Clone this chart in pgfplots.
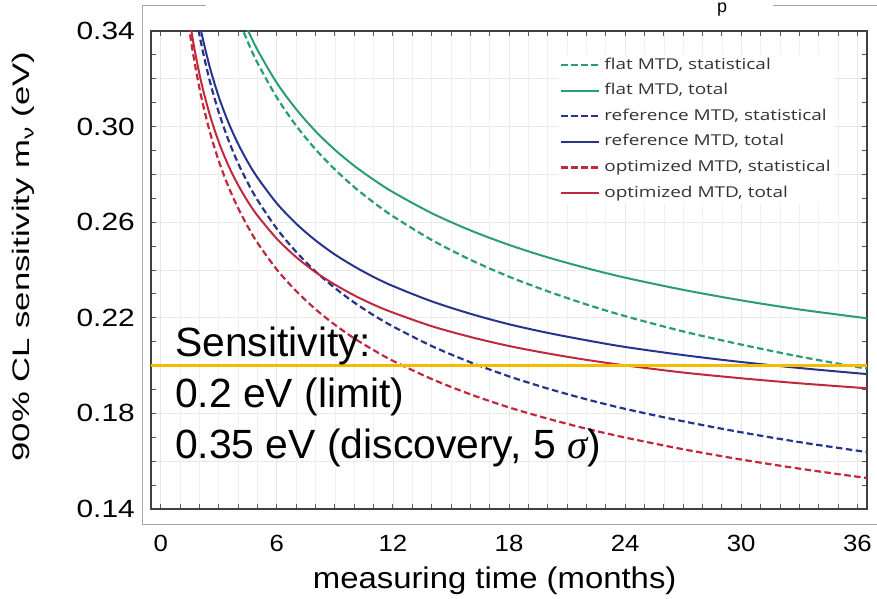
\documentclass[border=0pt]{standalone}
\usepackage{fontspec}
\setmainfont{Liberation Sans}
\newfontfamily\xtickfont[FakeStretch=1.1]{Liberation Sans}
\newfontfamily\ytickfont[FakeStretch=1.2]{Liberation Sans}
\newfontfamily\xlabfont[FakeStretch=1.1]{Liberation Sans}
\newfontfamily\ylabfont[FakeStretch=1.45]{Liberation Sans}
\newfontfamily\legfont[FakeStretch=1.27]{Open Sans}
\newfontfamily\sigfont{Liberation Serif}
\usepackage{pgfplots}
\pgfplotsset{compat=1.18}
\definecolor{cgreen}{RGB}{42,157,115}
\definecolor{cblue}{RGB}{40,52,140}
\definecolor{cred}{RGB}{192,40,62}
\definecolor{cyel}{RGB}{245,187,0}
\begin{document}
\begin{tikzpicture}
\path[use as bounding box] (0,0) rectangle (877bp,599bp);
% outer frame of the pasted figure (decoration)
\draw[black!35, line width=1bp] (142bp,593bp) -- (142bp,74bp) -- (877bp,74bp);
\draw[black!35, line width=1bp] (142bp,593bp) -- (206bp,593bp);
\draw[black!35, line width=1bp] (773bp,593bp) -- (877bp,593bp);
\node[anchor=base, inner sep=0pt, font=\fontsize{18}{18}\selectfont] at (722bp,586bp) {p};
\begin{axis}[
  at={(151bp,90bp)}, anchor=south west, scale only axis,
  width=716bp, height=478bp,
  xmin=-0.5, xmax=36.5, ymin=0.14, ymax=0.34,
  xtick={0,6,12,18,24,30,36}, minor x tick num=5,
  ytick={0.14,0.16,0.18,0.20,0.22,0.24,0.26,0.28,0.30,0.32,0.34},
  yticklabels={0.14,,0.18,,0.22,,0.26,,0.30,,0.34},
  minor y tick num=1,
  xmajorgrids, xminorgrids, ymajorgrids,
  major grid style={black!9, line width=0.6bp},
  minor grid style={black!6, line width=0.6bp},
  tick align=inside, major tick length=5bp, minor tick length=5bp,
  tick style={black!65, line width=0.8bp},
  axis line style={black!75, line width=1.3bp},
  /pgf/number format/assume math mode=true,
  xticklabel style={font=\xtickfont\fontsize{23.5}{24}\selectfont, anchor=north, inner sep=0pt, yshift=-26bp},
  yticklabel style={font=\ytickfont\fontsize{25}{25}\selectfont, anchor=east, inner sep=0pt, xshift=-16bp},
  xlabel={measuring time (months)},
  xlabel style={font=\xlabfont\fontsize{30}{30}\selectfont, at={(axis description cs:0.480,0)}, anchor=base, yshift=-79bp, inner sep=0pt},
  ylabel={90\% CL sensitivity m\textsubscript{ν} (eV)},
  ylabel style={font=\ylabfont\fontsize{24}{24}\selectfont, at={(axis description cs:-0.169,0.528)}, anchor=base, inner sep=0pt},
  legend cell align=left,
  legend image code/.code={\draw[#1] (0bp,0bp) -- (38bp,0bp);},
  legend style={at={(rel axis cs:0.5684,0.9498)}, anchor=north west, draw=none, fill=white,
    inner sep=2bp, row sep=9.6bp, column sep=3bp,
    font=\legfont\fontsize{15}{18}\selectfont, text=black!80,
    nodes={text height=11bp, text depth=3bp, inner sep=1bp}},
]
\addplot[cgreen, line width=2.2bp, dash pattern=on 6.5bp off 3.5bp, smooth] coordinates {
(3,0.3712)(3.5,0.3572)(4,0.3455)(4.5,0.3355)(5,0.3267)(6,0.3122)(7,0.3004)(8,0.2905)(9,0.2821)(10,0.2747)(11,0.2683)(12,0.2625)(14,0.2526)(16,0.2443)(18,0.2372)(20,0.2311)(22,0.2256)(24,0.2207)(27,0.2143)(30,0.2088)(33,0.2038)(36,0.1994)(36.5,0.1988)};
\addlegendentry{flat MTD, statistical}
\addplot[cgreen, line width=2bp, smooth] coordinates {
(3,0.3750)(3.5,0.3614)(4,0.3501)(4.5,0.3405)(5,0.3321)(6,0.3183)(7,0.3073)(8,0.2981)(9,0.2903)(10,0.2836)(11,0.2778)(12,0.2726)(14,0.2638)(16,0.2566)(18,0.2505)(20,0.2453)(22,0.2408)(24,0.2368)(27,0.2317)(30,0.2273)(33,0.2235)(36,0.2203)(36.5,0.2197)};
\addlegendentry{flat MTD, total}
\addplot[cblue, line width=2.2bp, dash pattern=on 6.5bp off 3.5bp, smooth] coordinates {
(1,0.4027)(1.5,0.3639)(2,0.3386)(2.5,0.3203)(3,0.3060)(3.5,0.2944)(4,0.2847)(4.5,0.2765)(5,0.2693)(6,0.2573)(7,0.2476)(8,0.2394)(9,0.2325)(10,0.2264)(11,0.2211)(12,0.2164)(14,0.2082)(16,0.2014)(18,0.1955)(20,0.1904)(22,0.1859)(24,0.1819)(27,0.1767)(30,0.1721)(33,0.1680)(36,0.1644)(36.5,0.1638)};
\addlegendentry{reference MTD, statistical}
\addplot[cblue, line width=2bp, smooth] coordinates {
(1,0.4056)(1.5,0.3678)(2,0.3435)(2.5,0.3260)(3,0.3125)(3.5,0.3017)(4,0.2928)(4.5,0.2852)(5,0.2787)(6,0.2679)(7,0.2594)(8,0.2524)(9,0.2465)(10,0.2415)(11,0.2371)(12,0.2333)(14,0.2269)(16,0.2217)(18,0.2173)(20,0.2137)(22,0.2106)(24,0.2078)(27,0.2044)(30,0.2015)(33,0.1990)(36,0.1968)(36.5,0.1965)};
\addlegendentry{reference MTD, total}
\addplot[cred, line width=2.2bp, dash pattern=on 6.5bp off 3.5bp, smooth] coordinates {
(1,0.3760)(1.5,0.3398)(2,0.3162)(2.5,0.2990)(3,0.2857)(3.5,0.2749)(4,0.2659)(4.5,0.2582)(5,0.2514)(6,0.2402)(7,0.2312)(8,0.2236)(9,0.2171)(10,0.2114)(11,0.2065)(12,0.2020)(14,0.1944)(16,0.1880)(18,0.1825)(20,0.1778)(22,0.1736)(24,0.1699)(27,0.1650)(30,0.1607)(33,0.1569)(36,0.1535)(36.5,0.1530)};
\addlegendentry{optimized MTD, statistical}
\addplot[cred, line width=2bp, smooth] coordinates {
(1,0.3796)(1.5,0.3446)(2,0.3221)(2.5,0.3060)(3,0.2936)(3.5,0.2837)(4,0.2756)(4.5,0.2687)(5,0.2628)(6,0.2531)(7,0.2454)(8,0.2391)(9,0.2339)(10,0.2294)(11,0.2255)(12,0.2222)(14,0.2165)(16,0.2120)(18,0.2082)(20,0.2051)(22,0.2024)(24,0.2001)(27,0.1971)(30,0.1947)(33,0.1926)(36,0.1908)(36.5,0.1905)};
\addlegendentry{optimized MTD, total}
\addplot[cyel, line width=3bp, forget plot] coordinates {(-0.5,0.2)(36.5,0.2)};
\node[anchor=base west, inner sep=0pt, font=\fontsize{41}{41}\selectfont] at (axis cs:0.74,0.2036) {Sensitivity:};
\node[anchor=base west, inner sep=0pt, font=\fontsize{41}{41}\selectfont] at (axis cs:0.74,0.1823) {0.2 eV (limit)};
\node[anchor=base west, inner sep=0pt, font=\fontsize{41}{41}\selectfont] at (axis cs:0.74,0.1613) {0.35 eV (discovery, 5 {\sigfont\itshape σ})};
\end{axis}
\end{tikzpicture}
\end{document}
